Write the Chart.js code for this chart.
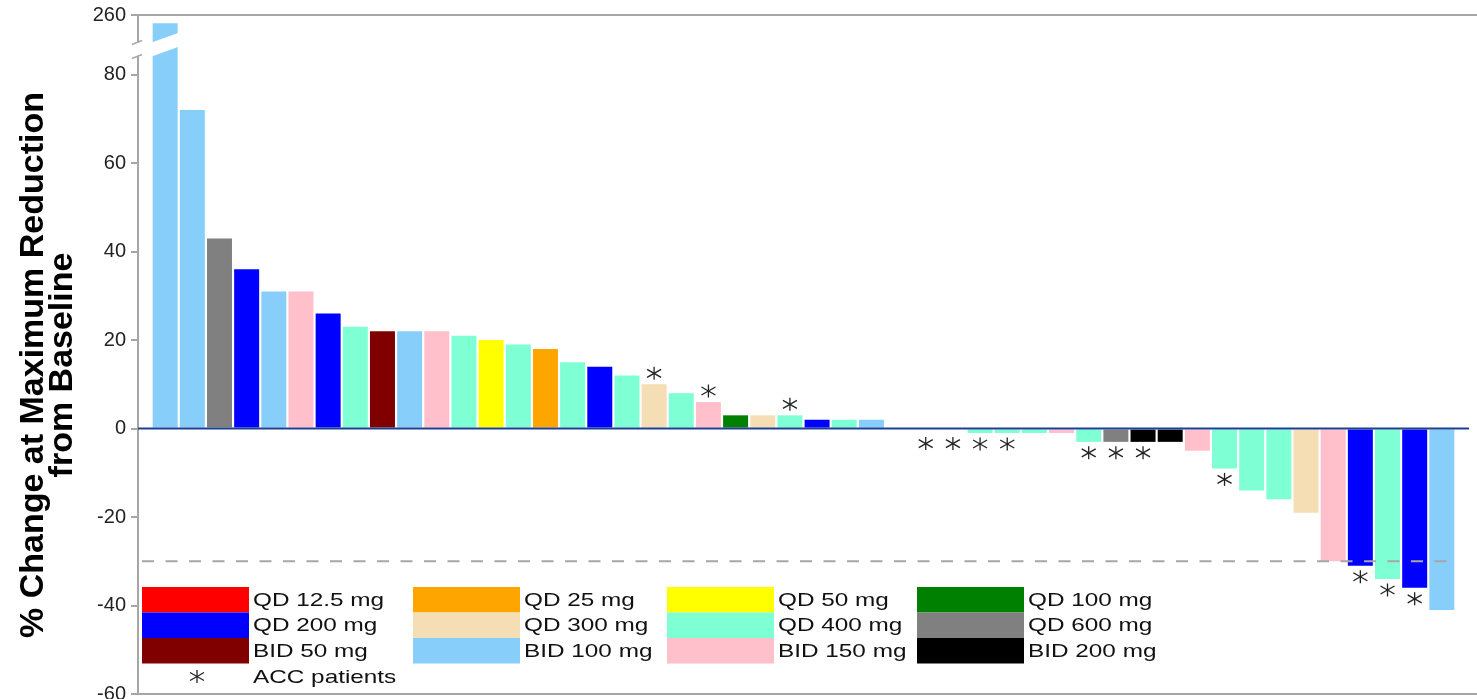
<!DOCTYPE html>
<html>
<head>
<meta charset="utf-8">
<title>Waterfall plot</title>
<script src="https://cdn.jsdelivr.net/npm/chart.js@4.4.1/dist/chart.umd.min.js"></script>
<style>
  html, body { margin: 0; padding: 0; background: #fff; }
</style>
</head>
<body>
<canvas id="waterfallChart" width="1477" height="699"></canvas>
<script>
// one bar per patient, sorted by best response
const patients = ['1','2','3','4','5','6','7','8','9','10','11','12','13','14','15','16',
  '17','18','19','20','21','22','23','24','25','26','27','28','29','30','31','32',
  '33','34','35','36','37','38','39','40','41','42','43','44','45','46','47','48'];

const pctChange = [235, 72, 43, 36, 31, 31, 26, 23, 22, 22, 22, 21, 20, 19, 18, 15,
  14, 12, 10, 8, 6, 3, 3, 3, 2, 2, 2, 0, 0, 0, -1, -1,
  -1, -1, -3, -3, -3, -3, -5, -9, -14, -16, -19, -30, -31, -34, -36, -41];

const doseGroup = ['BID 100 mg','BID 100 mg','QD 600 mg','QD 200 mg','BID 100 mg','BID 150 mg','QD 200 mg','QD 400 mg',
  'BID 50 mg','BID 100 mg','BID 150 mg','QD 400 mg','QD 50 mg','QD 400 mg','QD 25 mg','QD 400 mg',
  'QD 200 mg','QD 400 mg','QD 300 mg','QD 400 mg','BID 150 mg','QD 100 mg','QD 300 mg','QD 400 mg',
  'QD 200 mg','QD 400 mg','BID 100 mg','QD 12.5 mg','QD 400 mg','QD 400 mg','QD 400 mg','QD 400 mg',
  'QD 400 mg','BID 150 mg','QD 400 mg','QD 600 mg','BID 200 mg','BID 200 mg','BID 150 mg','QD 400 mg',
  'QD 400 mg','QD 400 mg','QD 300 mg','BID 150 mg','QD 200 mg','QD 400 mg','QD 200 mg','BID 100 mg'];

// 1 = ACC patient (marked with an asterisk)
const accPatient = [0,0,0,0,0,0,0,0,0,0, 0,0,0,0,0,0,0,0,1,0,
  1,0,0,1,0,0,0,0,1,1, 1,1,0,0,1,1,1,0,0,1, 0,0,0,0,1,1,1,0];

const doseLabels = ['QD 12.5 mg','QD 25 mg','QD 50 mg','QD 100 mg',
  'QD 200 mg','QD 300 mg','QD 400 mg','QD 600 mg',
  'BID 50 mg','BID 100 mg','BID 150 mg','BID 200 mg'];
const doseColors = ['#ff0000','#ffa500','#ffff00','#008000',
  '#0000ff','#f5deb3','#7fffd4','#808080',
  '#800000','#87cefa','#ffc0cb','#000000'];

const yTicks = [-60, -40, -20, 0, 20, 40, 60, 80, 260];
const thresholdPct = -30;

// broken axis: values above 80 are squeezed into the top strip
const BREAK_LOW = 80;
const AXIS_MAX = 260;
const SCALE_TOP = 93.5;
const BREAK_AT = 85.7;
function toAxis(v) {
  if (v === null || v <= BREAK_LOW) return v;
  return BREAK_LOW + (v - BREAK_LOW) * (SCALE_TOP - BREAK_LOW) / (AXIS_MAX - BREAK_LOW);
}

const AXIS_GREY = '#a6a6a6';
const FONT = "'Liberation Sans', Arial, sans-serif";
const colorOf = d => doseColors[doseLabels.indexOf(d)];

// empty slot at each end, like the original spacing
const xLabels = [''].concat(patients, ['']);
const barValues = [null].concat(pctChange.map(toAxis), [null]);
const barColors = ['#fff'].concat(doseGroup.map(colorOf), ['#fff']);

function line(ctx, x1, y1, x2, y2) {
  ctx.beginPath(); ctx.moveTo(x1, y1); ctx.lineTo(x2, y2); ctx.stroke();
}

function drawStar(ctx, x, y) {
  ctx.save();
  ctx.strokeStyle = '#222';
  ctx.lineWidth = 1.3;
  line(ctx, x, y - 6.5, x, y + 6.5);
  line(ctx, x - 7, y - 4, x + 7, y + 4);
  line(ctx, x - 7, y + 4, x + 7, y - 4);
  ctx.restore();
}

const legend = { left: [142, 413, 667, 917], top: 587, rowH: 25.5, boxW: 107, gap: 4, size: 19, stretch: 1.28 };

function stretchedText(ctx, text, x, y, stretch) {
  ctx.save();
  ctx.translate(x, y);
  ctx.scale(stretch, 1);
  ctx.fillText(text, 0, 0);
  ctx.restore();
}

const extras = {
  id: 'waterfallExtras',
  afterDatasetsDraw(chart) {
    const { ctx, chartArea: area } = chart;
    const y = chart.scales.y;
    const bars = chart.getDatasetMeta(0).data;
    ctx.save();

    // frame lines at top and bottom of the axis
    ctx.strokeStyle = AXIS_GREY;
    ctx.lineWidth = 2;
    [y.max, y.min].forEach(v => {
      const py = y.getPixelForValue(v);
      line(ctx, area.left - 7, py, chart.width, py);
    });

    // response threshold
    const pt = y.getPixelForValue(thresholdPct);
    ctx.setLineDash([12, 11.5]);
    line(ctx, area.left + 4, pt, area.right - 12, pt);
    ctx.setLineDash([]);

    // zero line
    const p0 = y.getPixelForValue(0);
    ctx.strokeStyle = '#1c3f94';
    line(ctx, area.left, p0, area.right, p0);

    // axis break
    const yc = y.getPixelForValue(BREAK_AT);
    const first = bars[1];
    const bl = first.x - first.width / 2 - 1, br = first.x + first.width / 2 + 1;
    const slope = 0.36, half = 7;
    ctx.fillStyle = '#fff';
    ctx.beginPath();
    ctx.moveTo(bl, yc - half);
    ctx.lineTo(br, yc - half - (br - bl) * slope);
    ctx.lineTo(br, yc + half - (br - bl) * slope);
    ctx.lineTo(bl, yc + half);
    ctx.closePath();
    ctx.fill();
    ctx.fillRect(area.left - 4, yc - half, 8, half * 2);
    ctx.strokeStyle = AXIS_GREY;
    ctx.lineWidth = 1.5;
    line(ctx, area.left - 6, yc - half + 2, area.left + 4, yc - half - 2);
    line(ctx, area.left - 6, yc + half + 2, area.left + 4, yc + half - 2);

    // ACC asterisks
    bars.forEach((bar, i) => {
      const k = i - 1;
      if (k < 0 || k >= pctChange.length || !accPatient[k]) return;
      const v = pctChange[k];
      const cy = v > 0 ? bar.y - 11 : bar.y + (v === 0 ? 15 : 11);
      drawStar(ctx, bar.x, cy);
    });

    // legend
    ctx.font = legend.size + 'px ' + FONT;
    ctx.textBaseline = 'middle';
    ctx.textAlign = 'left';
    doseLabels.forEach((lab, i) => {
      const x = legend.left[i % 4];
      const top = legend.top + Math.floor(i / 4) * legend.rowH;
      ctx.fillStyle = doseColors[i];
      ctx.fillRect(x, top, legend.boxW, legend.rowH);
      ctx.fillStyle = '#111';
      stretchedText(ctx, lab, x + legend.boxW + legend.gap, top + legend.rowH / 2 + 1, legend.stretch);
    });
    const accY = legend.top + 3 * legend.rowH + 13;
    drawStar(ctx, legend.left[0] + 55, accY);
    ctx.fillStyle = '#111';
    stretchedText(ctx, 'ACC patients', legend.left[0] + legend.boxW + legend.gap, accY + 1, legend.stretch);

    // y-axis title
    ctx.font = 'bold 34px ' + FONT;
    ctx.textAlign = 'center';
    ctx.textBaseline = 'alphabetic';
    ctx.fillStyle = '#000';
    [['% Change at Maximum Reduction', 43], ['from Baseline', 72]].forEach(([t, bx]) => {
      ctx.save();
      ctx.translate(bx, 365);
      ctx.rotate(-Math.PI / 2);
      ctx.fillText(t, 0, 0);
      ctx.restore();
    });

    ctx.restore();
  }
};

const ctx1 = document.getElementById('waterfallChart').getContext('2d');
const waterfallChart = new Chart(ctx1, {
  type: 'bar',
  data: {
    labels: xLabels,
    datasets: [{
      label: '% change',
      data: barValues,
      backgroundColor: barColors,
      borderWidth: 0,
      barPercentage: 0.92,
      categoryPercentage: 1
    }]
  },
  options: {
    responsive: false,
    animation: false,
    devicePixelRatio: 1,
    layout: { padding: { left: 0, top: 15, right: 8, bottom: 5 } },
    plugins: { legend: { display: false }, tooltip: { enabled: false } },
    scales: {
      x: { display: false, offset: false },
      y: {
        min: -60,
        max: SCALE_TOP,
        afterBuildTicks: scale => { scale.ticks = yTicks.map(v => ({ value: toAxis(v) })); },
        afterFit: scale => { scale.width = 138; scale.paddingTop = 0; scale.paddingBottom = 0; },
        ticks: {
          callback: (val, i) => yTicks[i],
          font: { family: FONT, size: 20 },
          color: '#222',
          padding: 5
        },
        grid: { drawOnChartArea: false, tickLength: 7, color: AXIS_GREY, lineWidth: 2 },
        border: { display: true, color: AXIS_GREY, width: 2 }
      }
    }
  },
  plugins: [extras]
});
</script>
</body>
</html>
